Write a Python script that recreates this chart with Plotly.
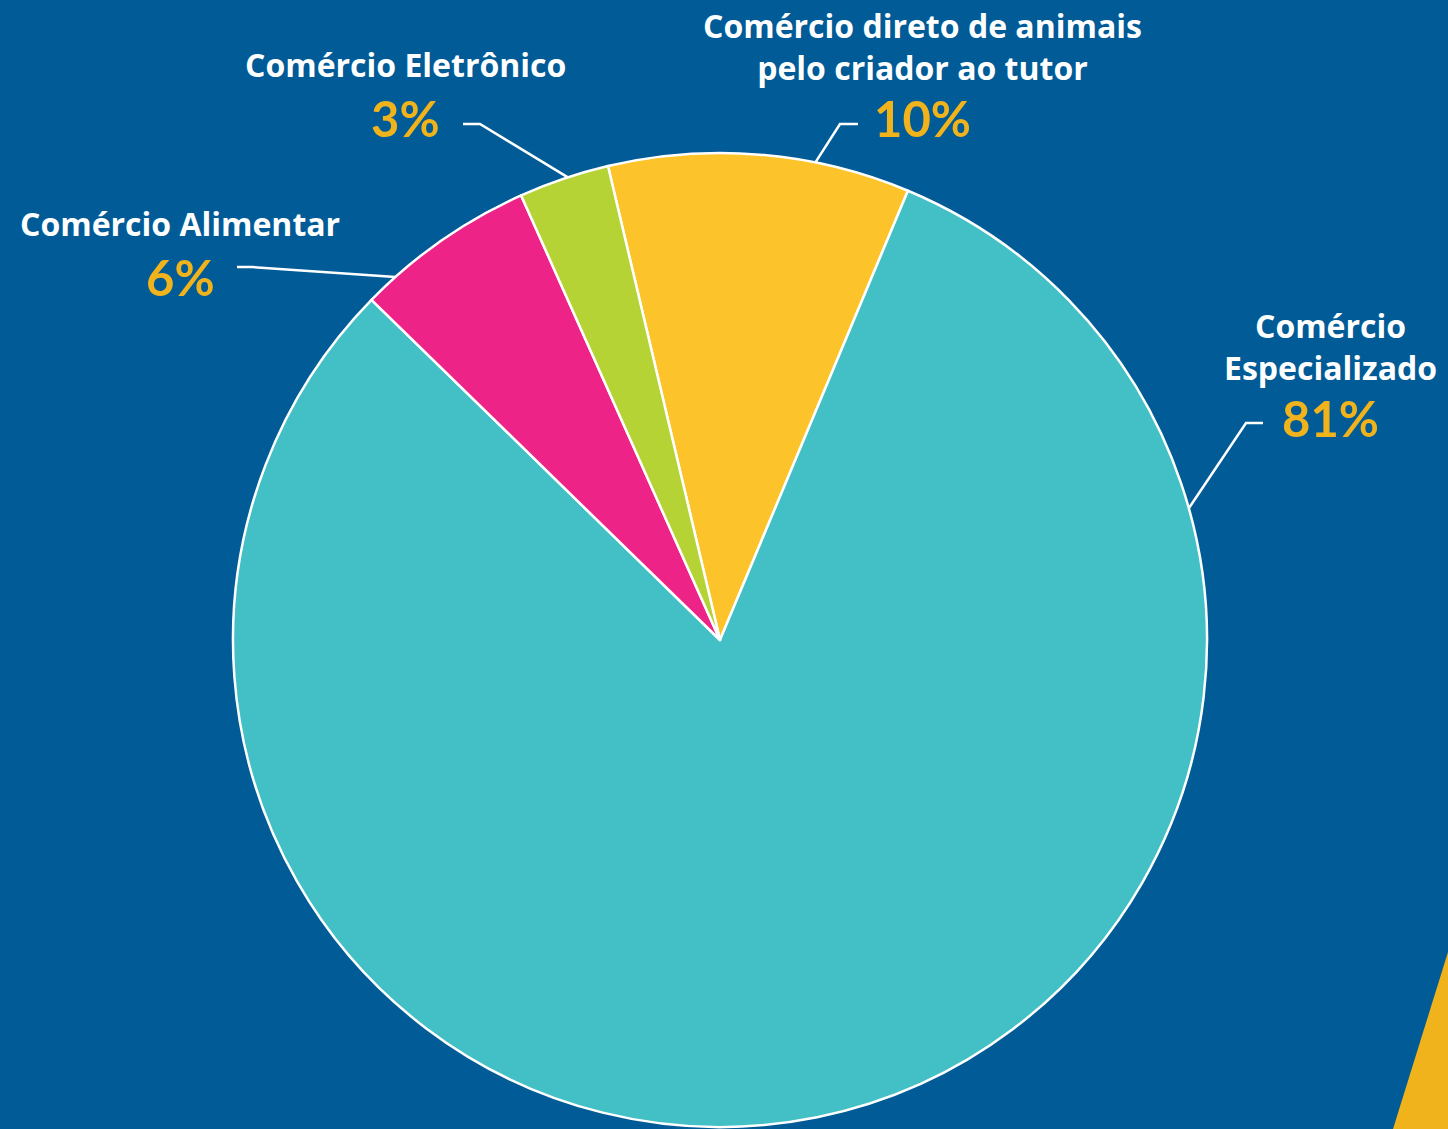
import math
import plotly.graph_objects as go

# ---- data ----
categories = ["Comércio direto de animais<br>pelo criador ao tutor",
              "Comércio Especializado",
              "Comércio Alimentar",
              "Comércio Eletrônico"]
name_labels = ["Comércio direto de animais<br>pelo criador ao tutor",
               "Comércio<br>Especializado",
               "Comércio Alimentar",
               "Comércio Eletrônico"]
values = [10, 81, 6, 3]
pct_labels = ["10%", "81%", "6%", "3%"]

# ---- style ----
colors = ["#FCC42A", "#42C0C5", "#EE2387", "#B5D334"]
BG = "#005B97"
ORANGE = "#F0B31C"
W, H = 1448, 1129
CX, CY, R = 720, 640, 487
ROT = -13.3

# label placement (pixels): name centre, pct centre, elbow start, elbow end, anchor angle on rim
label_style = [
    dict(name=(922, 47), pct=(922, 118), e0=(858, 124), e1=(840, 124), ang=11.3),
    dict(name=(1330, 346), pct=(1330, 418), e0=(1263, 423), e1=(1246, 423), ang=74.3),
    dict(name=(180, 223), pct=(180, 277), e0=(237, 267), e1=(252, 267), ang=-41.8),
    dict(name=(405, 64), pct=(405, 118), e0=(463, 124), e1=(480, 124), ang=-18.2),
]


def px(x):
    return x / W


def py(y):
    return 1 - y / H


fig = go.Figure(go.Pie(
    labels=categories,
    values=values,
    sort=False,
    direction="clockwise",
    rotation=ROT,
    textinfo="none",
    hoverinfo="label+percent",
    marker=dict(colors=colors, line=dict(color="white", width=2.5)),
    domain=dict(x=[px(CX - R), px(CX + R)], y=[py(CY + R), py(CY - R)]),
    showlegend=False,
))

annotations = []
shapes = []
for name, pct, st in zip(name_labels, pct_labels, label_style):
    annotations.append(dict(
        x=px(st["name"][0]), y=py(st["name"][1]), xref="paper", yref="paper",
        text=name, showarrow=False, xanchor="center", yanchor="middle",
        font=dict(family="Open Sans", size=32, color="white", weight=700),
    ))
    annotations.append(dict(
        x=px(st["pct"][0]), y=py(st["pct"][1]), xref="paper", yref="paper",
        text=pct, showarrow=False, xanchor="center", yanchor="middle",
        font=dict(family="Lato", size=49, color=ORANGE, weight=700),
    ))
    a = math.radians(st["ang"])
    ex, ey = CX + R * math.sin(a), CY - R * math.cos(a)
    path = "M {},{} L {},{} L {},{}".format(
        px(st["e0"][0]), py(st["e0"][1]),
        px(st["e1"][0]), py(st["e1"][1]),
        px(ex), py(ey))
    shapes.append(dict(type="path", path=path, xref="paper", yref="paper",
                       line=dict(color="white", width=2.5), layer="below"))

# decorative yellow swoosh bottom-right
shapes.append(dict(
    type="path", xref="paper", yref="paper",
    path="M {},{} L {},{} L {},{} Z".format(px(1448), py(952), px(1393), py(1129), px(1448), py(1129)),
    fillcolor=ORANGE, line=dict(width=0), layer="below"))

fig.update_layout(
    width=W, height=H,
    margin=dict(l=0, r=0, t=0, b=0),
    paper_bgcolor=BG, plot_bgcolor=BG,
    annotations=annotations, shapes=shapes,
)

fig.write_html("out.html", config={"displayModeBar": False},
               post_script="document.body.style.margin='0';document.body.style.overflow='hidden';document.body.style.background='" + BG + "';")
